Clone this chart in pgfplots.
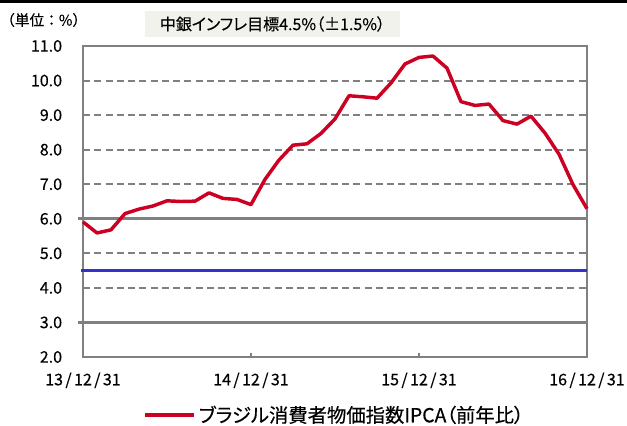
\documentclass[border=0pt]{standalone}
\usepackage{fontspec}
\usepackage{pgfplots}
\pgfplotsset{compat=1.18}
\newfontfamily\cjk[FakeBold=0.4]{Noto Sans CJK JP}
\newfontfamily\cjkp[FakeBold=0.4,RawFeature=+palt]{Noto Sans CJK JP}
\definecolor{ipcared}{RGB}{204,0,34}
\definecolor{gridgray}{RGB}{128,128,128}
\definecolor{bandblue}{RGB}{51,51,204}
\definecolor{titlebg}{RGB}{242,242,236}
\begin{document}
\begin{tikzpicture}
\useasboundingbox (-62.25pt,-51pt) rectangle (408pt,267.75pt);
\begin{axis}[
  at={(0,0)}, anchor=south west,
  scale only axis, width=378pt, height=233.25pt,
  xmin=0, xmax=36, ymin=2, ymax=11,
  clip=false,
  axis line style={gridgray, line width=1.2pt},
  xtick={0,12,24,36},
  xticklabels={13\kern0.15em/\kern0.15em12\kern0.15em/\kern0.15em31,14\kern0.15em/\kern0.15em12\kern0.15em/\kern0.15em31,15\kern0.15em/\kern0.15em12\kern0.15em/\kern0.15em31,16\kern0.15em/\kern0.15em12\kern0.15em/\kern0.15em31},
  xtick pos=bottom, tick align=inside,
  major tick length=3pt,
  tick style={gridgray, line width=0.8pt},
  ytick={2,...,11},
  ytick style={draw=none},
  ymajorgrids,
  grid style={gridgray, line width=1.5pt, dash pattern=on 5.25pt off 3.2pt},
  /pgf/number format/assume math mode=true,
  yticklabel={\pgfmathprintnumber[fixed,fixed zerofill,precision=1]{\tick}},
  yticklabel style={font=\cjk\fontsize{12pt}{14pt}\selectfont, anchor=east, inner sep=0pt, xshift=-15.5pt},
  xticklabel style={font=\cjk\fontsize{12pt}{14pt}\selectfont, anchor=center, inner sep=0pt, yshift=-17.5pt},
  legend image code/.code={\draw[#1] (0pt,0pt) -- (36.75pt,0pt);},
  legend style={at={(0.5,-0.1865)}, anchor=center, draw=none, fill=none,
    font=\cjkp\fontsize{14.5pt}{16pt}\selectfont, inner sep=0pt,
    /tikz/every even column/.append style={column sep=0pt}},
  legend cell align=left,
]
\addplot[gridgray, line width=2.25pt, forget plot] coordinates {(-0.36,6) (36,6)};
\addplot[gridgray, line width=2.25pt, forget plot] coordinates {(-0.36,3) (36,3)};
\addplot[bandblue, line width=2.25pt, forget plot] coordinates {(-0.15,4.5) (36,4.5)};
\addplot[ipcared, line width=2.6pt, line join=round] coordinates {
(0,5.91) (1,5.59) (2,5.68) (3,6.15) (4,6.28) (5,6.37) (6,6.52) (7,6.50) (8,6.51) (9,6.75) (10,6.59) (11,6.56) (12,6.41)
(13,7.14) (14,7.70) (15,8.13) (16,8.17) (17,8.47) (18,8.89) (19,9.56) (20,9.53) (21,9.49) (22,9.93) (23,10.48) (24,10.67)
(25,10.71) (26,10.36) (27,9.39) (28,9.28) (29,9.32) (30,8.84) (31,8.74) (32,8.97) (33,8.48) (34,7.87) (35,6.99) (36,6.29)
};
\addlegendentry{ブラジル消費者物価指数IPCA（前年比）}
\end{axis}
\fill[black] (-62.25pt,265.5pt) rectangle (408pt,267.75pt);
\node[fill=titlebg, minimum width=191.25pt, minimum height=19.5pt, inner sep=0pt, font=\cjkp\fontsize{12pt}{14pt}\selectfont] at (142.1pt,249.75pt) {中銀インフレ目標4.5\%（±1.5\%）};
\node[inner sep=0pt, font=\cjk\fontsize{11pt}{13pt}\selectfont] at (-29.5pt,252.75pt) {（単位：\%）};
\end{tikzpicture}
\end{document}
